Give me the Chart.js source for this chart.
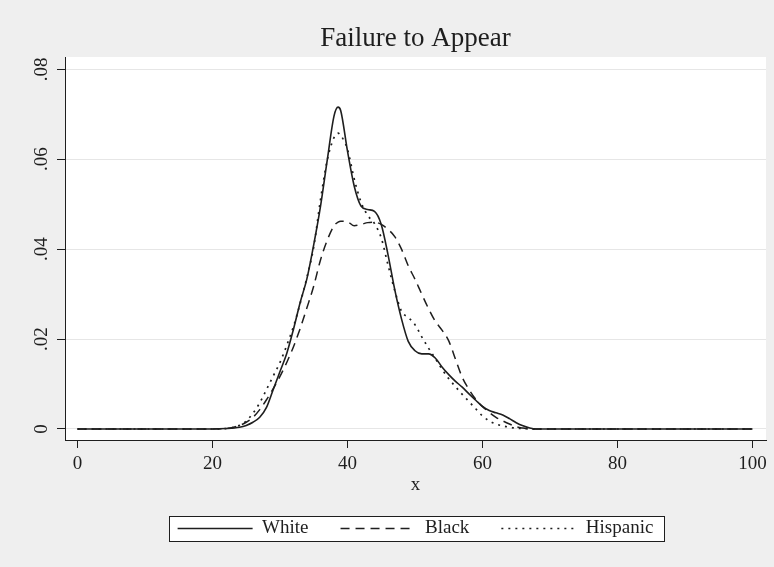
<!DOCTYPE html>
<html>
<head>
<meta charset="utf-8">
<script src="https://cdn.jsdelivr.net/npm/chart.js@4.4.1/dist/chart.umd.min.js"></script>
<style>
html,body{margin:0;padding:0;background:#efefef;}
#wrap{width:774px;height:567px;}
</style>
</head>
<body>
<div id="wrap"><canvas id="c" width="774" height="567"></canvas></div>
<script>
// ---- data ----
const chartTitle = 'Failure to Appear';
const xAxisTitle = 'x';
const seriesNames = ['White', 'Black', 'Hispanic'];
const xTicks = [0, 20, 40, 60, 80, 100];
const yTicks = [0, 0.02, 0.04, 0.06, 0.08];

const xValues = [0, 5, 10, 15, 20,
  22, 24, 25, 26, 27, 28, 29,
  30, 31, 32, 33, 34, 35, 36, 37, 38, 38.6,
  39, 40, 41, 42, 43, 44, 45, 46, 47, 48, 49,
  50, 51, 52, 53, 54, 55, 56, 57, 58, 59,
  60, 61, 62, 63, 64, 65, 66, 67, 68,
  70, 80, 90, 100];

const white = [0, 0, 0, 0, 0,
  0.0001, 0.0004, 0.0008, 0.0015, 0.0026, 0.0048, 0.0088,
  0.0128, 0.0168, 0.0222, 0.0282, 0.0335, 0.0410, 0.0495, 0.0598, 0.0696, 0.0716,
  0.0708, 0.0618, 0.0540, 0.0496, 0.0488, 0.0484, 0.0455, 0.0388, 0.0310, 0.0245, 0.0195,
  0.0174, 0.0167, 0.0167, 0.0158, 0.0138, 0.0121, 0.0106, 0.0093, 0.0078, 0.0064,
  0.0050, 0.0041, 0.0036, 0.0031, 0.0023, 0.0014, 0.0007, 0.0002, 0,
  0, 0, 0, 0];

const black = [0, 0, 0, 0, 0,
  0.0001, 0.0008, 0.0015, 0.0026, 0.0043, 0.0065, 0.0090,
  0.0117, 0.0148, 0.0183, 0.0224, 0.0270, 0.0318, 0.0376, 0.0420, 0.0452, 0.0460,
  0.0462, 0.0461, 0.0452, 0.0455, 0.0459, 0.0460, 0.0455, 0.0444, 0.0428, 0.0400, 0.0363,
  0.0333, 0.0300, 0.0268, 0.0240, 0.0220, 0.0196, 0.0155, 0.0115, 0.0088, 0.0066,
  0.0050, 0.0037, 0.0026, 0.0018, 0.0011, 0.0005, 0.0002, 0, 0,
  0, 0, 0, 0];

const hispanic = [0, 0, 0, 0, 0,
  0.0001, 0.0008, 0.0018, 0.0035, 0.0058, 0.0088, 0.0118,
  0.0148, 0.0186, 0.0228, 0.0280, 0.0338, 0.0405, 0.0510, 0.0598, 0.0648, 0.0658,
  0.0653, 0.0622, 0.0556, 0.0505, 0.0475, 0.0457, 0.0425, 0.0365, 0.0308, 0.0262, 0.0248,
  0.0232, 0.0205, 0.0180, 0.0157, 0.0133, 0.0112, 0.0094, 0.0077, 0.0061, 0.0045,
  0.0029, 0.0018, 0.0011, 0.0007, 0.0004, 0.0002, 0.0001, 0, 0,
  0, 0, 0, 0];

// ---- styling ----
const INK = '#1e1e1e';
Chart.defaults.font.family = "'Liberation Serif', 'Times New Roman', serif";
Chart.defaults.color = INK;

const toPoints = (ys) => xValues.map((x, i) => ({x: x, y: ys[i]}));

const backdrop = {
  id: 'backdrop',
  beforeDraw(chart) {
    const {ctx, chartArea: a, width, height} = chart;
    ctx.save();
    ctx.fillStyle = '#efefef';
    ctx.fillRect(0, 0, width, height);
    ctx.fillStyle = '#ffffff';
    ctx.fillRect(a.left, a.top, a.right - a.left, a.bottom - a.top);
    const lg = chart.legend;
    if (lg && lg.legendHitBoxes && lg.legendHitBoxes.length) {
      const hb = lg.legendHitBoxes;
      const last = hb[hb.length - 1];
      const l = Math.round(hb[0].left - 8.5);
      const r = Math.round(last.left + last.width + 11);
      const cy = hb[0].top + hb[0].height / 2;
      const t = Math.round(cy - 12.5);
      ctx.fillStyle = '#ffffff';
      ctx.fillRect(l, t, r - l, 25);
      ctx.strokeStyle = INK;
      ctx.lineWidth = 1;
      ctx.strokeRect(l + 0.5, t + 0.5, r - l, 25);
    }
    ctx.restore();
  }
};

new Chart(document.getElementById('c'), {
  type: 'line',
  data: {
    datasets: [
      {label: seriesNames[0], data: toPoints(white), borderColor: INK, backgroundColor: 'transparent',
       borderWidth: 1.6, borderDash: [], pointRadius: 0, cubicInterpolationMode: 'monotone', fill: false},
      {label: seriesNames[1], data: toPoints(black), borderColor: INK, backgroundColor: 'transparent',
       borderWidth: 1.5, borderDash: [9, 6], pointRadius: 0, cubicInterpolationMode: 'monotone', fill: false},
      {label: seriesNames[2], data: toPoints(hispanic), borderColor: INK, backgroundColor: 'transparent',
       borderWidth: 1.7, borderDash: [2, 5], pointRadius: 0, cubicInterpolationMode: 'monotone', fill: false}
    ]
  },
  options: {
    responsive: false,
    animation: false,
    events: [],
    layout: {padding: {left: 0, right: 8, top: 0, bottom: 19}},
    plugins: {
      tooltip: {enabled: false},
      title: {
        display: true, text: chartTitle, fullSize: false, color: INK,
        font: {size: 27, weight: 'normal'},
        padding: {top: 23, bottom: 1.6}
      },
      legend: {
        display: true, position: 'bottom', fullSize: false, align: 'center',
        labels: {
          usePointStyle: true, pointStyle: 'line', pointStyleWidth: 75,
          padding: 32, color: INK, font: {size: 19},
          generateLabels: (chart) => {
            const items = Chart.defaults.plugins.legend.labels.generateLabels(chart);
            items.forEach((it) => {
              const ds = chart.data.datasets[it.datasetIndex];
              it.lineDash = ds.borderDash;
              it.lineWidth = ds.borderWidth;
              it.strokeStyle = ds.borderColor;
              it.fillStyle = 'transparent';
              it.pointStyle = 'line';
            });
            return items;
          }
        }
      }
    },
    scales: {
      x: {
        type: 'linear', min: -1.85, max: 102.0,
        afterBuildTicks: (s) => { s.ticks = xTicks.map(v => ({value: v})); },
        afterFit: (s) => { s.height = 47; },
        grid: {drawOnChartArea: false, drawTicks: true, tickLength: 8, tickColor: INK, tickWidth: 1},
        border: {display: true, color: INK, width: 1},
        ticks: {font: {size: 19}, color: INK, padding: 5, maxRotation: 0, autoSkip: false},
        title: {display: true, text: xAxisTitle, color: INK, font: {size: 19}, padding: {top: 0, bottom: -9.5}}
      },
      y: {
        type: 'linear', min: -0.00245, max: 0.08274,
        afterBuildTicks: (s) => { s.ticks = yTicks.map(v => ({value: v})); },
        afterFit: (s) => { s.width = 65; },
        grid: {color: '#e6e6e6', lineWidth: 1, tickLength: 8, tickColor: INK, tickWidth: 1},
        border: {display: true, color: INK, width: 1},
        ticks: {
          font: {size: 19}, color: INK, padding: 3.5,
          minRotation: 90, maxRotation: 90, crossAlign: 'center', autoSkip: false,
          callback: (v) => v === 0 ? '0' : Number(v).toFixed(2).replace(/^0/, '')
        }
      }
    }
  },
  plugins: [backdrop]
});
</script>
</body>
</html>
